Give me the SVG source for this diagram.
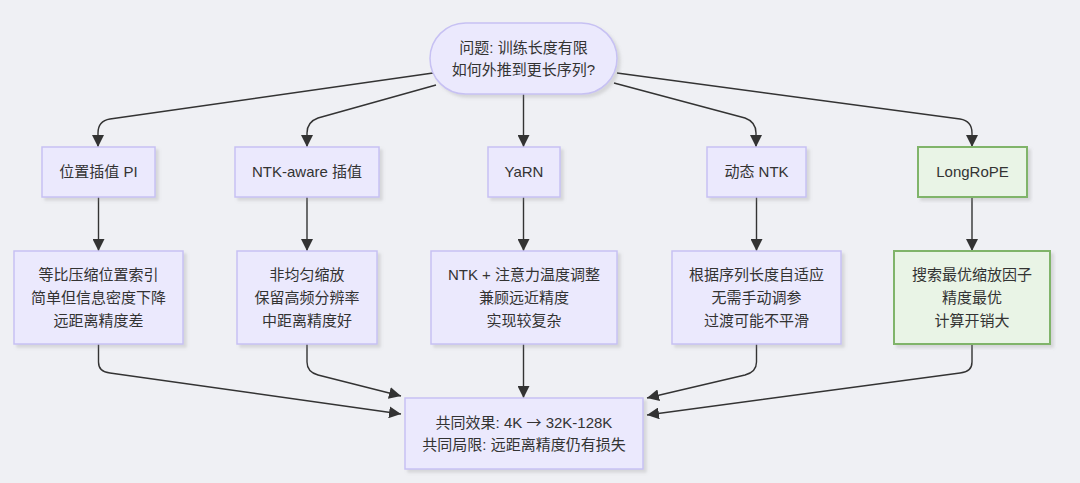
<svg xmlns="http://www.w3.org/2000/svg" width="1080" height="483" viewBox="0 0 1080 483">
<defs>
<style>
.n{fill:#ebe9fd;stroke:#c7c1f3;stroke-width:1.5}
.g{fill:#e9f4e6;stroke:#80b46a;stroke-width:2}
.t{font-family:"Liberation Sans","Noto Sans CJK SC",sans-serif;font-size:15px;fill:#333;text-anchor:middle}
.ar{font-family:"Noto Sans CJK SC","DejaVu Sans",sans-serif}
.e{fill:none;stroke:#333;stroke-width:1.4;marker-end:url(#ah)}
</style>
<marker id="ah" viewBox="0 0 10 10" refX="10" refY="5" markerWidth="12" markerHeight="12" markerUnits="userSpaceOnUse" orient="auto">
<path d="M0,0 L10,5 L0,10 z" fill="#333"/>
</marker>
<filter id="sh" x="-10%" y="-10%" width="130%" height="140%">
<feDropShadow dx="3" dy="3" stdDeviation="1.5" flood-color="#888" flood-opacity="0.25"/>
</filter>
</defs>
<rect width="1080" height="483" fill="#eff0f4"/>
<g id="connectors">
<path class="e" d="M433,73 L110,119 Q98,121 98,133 L98,147"/>
<path class="e" d="M436,85 L318,118 Q307,122 307,133 L307,147"/>
<path class="e" d="M523.5,94 L523.5,147"/>
<path class="e" d="M614,83 L745,118 Q756,122 756,133 L756,147"/>
<path class="e" d="M617,73 L960,119 Q972,121 972,133 L972,147"/>
<path class="e" d="M98.5,197 L98.5,251"/>
<path class="e" d="M307,197 L307,251"/>
<path class="e" d="M523.5,197 L523.5,251"/>
<path class="e" d="M756.5,197 L756.5,251"/>
<path class="e" d="M972,197 L972,251"/>
<path class="e" d="M98.5,344 L98.5,362 Q98.5,372 110,373 L401,414"/>
<path class="e" d="M307,344 L307,362 Q307,372 318,375 L401,396"/>
<path class="e" d="M523.5,344 L523.5,398"/>
<path class="e" d="M756.5,344 L756.5,362 Q756.5,372 745,375 L647,398"/>
<path class="e" d="M972,344 L972,362 Q972,372 960,373 L647,415"/>
</g>
<g id="q">
<rect class="n" filter="url(#sh)" x="430" y="23" width="187" height="71" rx="35.5"/>
<text class="t" x="523.5" y="53">问题: 训练长度有限</text>
<text class="t" x="523.5" y="75">如何外推到更长序列?</text>
</g>
<g id="pi">
<rect class="n" filter="url(#sh)" x="42" y="147" width="113" height="50"/>
<text class="t" x="98.5" y="177">位置插值 PI</text>
</g>
<g id="ntk">
<rect class="n" filter="url(#sh)" x="235" y="147" width="144" height="50"/>
<text class="t" x="307" y="177">NTK-aware 插值</text>
</g>
<g id="yarn">
<rect class="n" filter="url(#sh)" x="488" y="147" width="72" height="50"/>
<text class="t" x="524" y="177">YaRN</text>
</g>
<g id="dyn">
<rect class="n" filter="url(#sh)" x="707" y="147" width="99" height="50"/>
<text class="t" x="756.5" y="177">动态 NTK</text>
</g>
<g id="longrope">
<rect class="g" filter="url(#sh)" x="918" y="147" width="109" height="50"/>
<text class="t" x="972.5" y="177">LongRoPE</text>
</g>
<g id="pi_d">
<rect class="n" filter="url(#sh)" x="14" y="251" width="169" height="93"/>
<text class="t" x="98.5" y="280">等比压缩位置索引</text>
<text class="t" x="98.5" y="303">简单但信息密度下降</text>
<text class="t" x="98.5" y="326">远距离精度差</text>
</g>
<g id="ntk_d">
<rect class="n" filter="url(#sh)" x="237" y="251" width="140" height="93"/>
<text class="t" x="307" y="280">非均匀缩放</text>
<text class="t" x="307" y="303">保留高频分辨率</text>
<text class="t" x="307" y="326">中距离精度好</text>
</g>
<g id="yarn_d">
<rect class="n" filter="url(#sh)" x="431" y="251" width="186" height="93"/>
<text class="t" x="524" y="280">NTK + 注意力温度调整</text>
<text class="t" x="524" y="303">兼顾远近精度</text>
<text class="t" x="524" y="326">实现较复杂</text>
</g>
<g id="dyn_d">
<rect class="n" filter="url(#sh)" x="672" y="251" width="169" height="93"/>
<text class="t" x="756.5" y="280">根据序列长度自适应</text>
<text class="t" x="756.5" y="303">无需手动调参</text>
<text class="t" x="756.5" y="326">过渡可能不平滑</text>
</g>
<g id="longrope_d">
<rect class="g" filter="url(#sh)" x="894" y="251" width="156" height="93"/>
<text class="t" x="972" y="280">搜索最优缩放因子</text>
<text class="t" x="972" y="303">精度最优</text>
<text class="t" x="972" y="326">计算开销大</text>
</g>
<g id="common">
<rect class="n" filter="url(#sh)" x="405" y="398" width="238" height="71"/>
<text class="t" x="524" y="428">共同效果: 4K <tspan class="ar">→</tspan> 32K-128K</text>
<text class="t" x="524" y="450">共同局限: 远距离精度仍有损失</text>
</g>
</svg>
